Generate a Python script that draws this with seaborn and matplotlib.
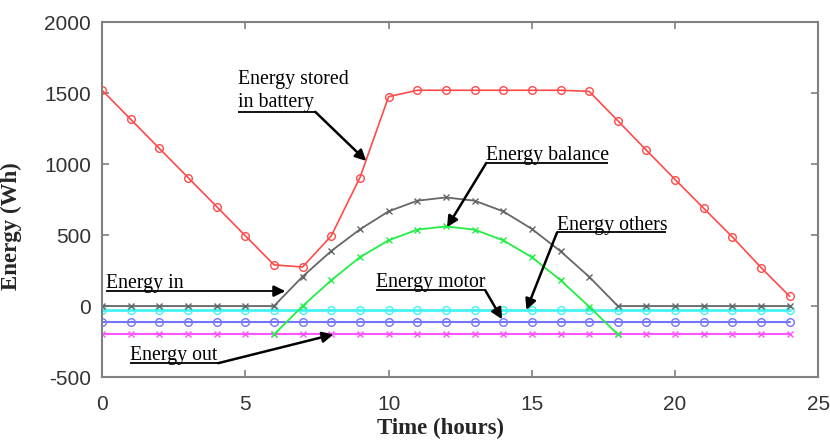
import matplotlib
matplotlib.use("Agg")
import matplotlib.pyplot as plt
import seaborn as sns

# Hourly energy profile (Wh)
hours = list(range(25))
battery = [1520, 1315, 1110, 905, 700, 495, 290, 275, 495, 905, 1475,
           1520, 1520, 1520, 1520, 1520, 1520, 1512, 1305, 1097, 891, 688, 486, 271, 68]
balance = [0, 0, 0, 0, 0, 0, 0, 208, 388, 540, 667, 742, 765, 742, 667,
           543, 386, 206, 0, 0, 0, 0, 0, 0, 0]
energy_in_hours = list(range(6, 19))
energy_in = [-200, 0, 182, 344, 463, 538, 561, 538, 463, 344, 182, -4, -200]
others = [-25] * 25
motor = [-110] * 25
energy_out = [-200] * 25

x_ticks = [0, 5, 10, 15, 20, 25]
y_ticks = [-500, 0, 500, 1000, 1500, 2000]

sns.set_style("ticks")
plt.rcParams["font.family"] = ["Liberation Sans", "DejaVu Sans"]
plt.rcParams["axes.unicode_minus"] = False

fig, ax = plt.subplots(figsize=(8.3, 4.42), dpi=100)
fig.subplots_adjust(left=0.123, right=0.986, top=0.950, bottom=0.147)

series = [
    (hours, others, "#44f2f2", "o", 2.0, 5.5),
    (hours, motor, "#7474ff", "o", 1.5, 5.5),
    (hours, energy_out, "#ff55ff", "x", 1.5, 4.5),
    (hours, battery, "#ff4a4a", "o", 1.2, 5.5),
    (hours, balance, "#666666", "x", 1.3, 4.5),
    (energy_in_hours, energy_in, "#22ee44", "x", 1.3, 4.5),
]
for xs, ys, c, m, lw, ms in series:
    sns.lineplot(x=xs, y=ys, color=c, marker=m, mfc="none", mec=c, mew=1.0,
                 ms=ms, lw=lw, legend=False, ax=ax)

ax.set_xlim(0, 25)
ax.set_ylim(-500, 2000)
ax.set_xticks(x_ticks)
ax.set_yticks(y_ticks)
ax.tick_params(direction="in", length=5, width=1.2, color="#808080",
               labelsize=15, labelcolor="#333333", top=True, right=True)
ax.tick_params(axis="x", pad=13)
ax.tick_params(axis="y", pad=8)
for s in ax.spines.values():
    s.set_color("#808080")
    s.set_linewidth(1.5)

serif = ["Liberation Serif", "DejaVu Serif"]
ax.set_xlabel("Time (hours)", family=serif, fontweight="bold", fontsize=16.5)
ax.set_ylabel("Energy (Wh)", family=serif, fontweight="bold", fontsize=16.5)
ax.xaxis.set_label_coords(0.473, -0.115)
ax.yaxis.set_label_coords(-0.112, 0.425)

# annotations: text lines, underline (x0, x1, y), arrow start, arrow tip
notes = [
    (["Energy stored", "in battery"], [1563, 1399], (4.75, 7.44, 1368), (7.44, 1368), (9.22, 1022)),
    (["Energy balance"], [1029], (13.41, 17.67, 1008), (13.41, 1008), (12.04, 555)),
    (["Energy others"], [538], (15.88, 19.68, 519), (15.88, 519), (14.81, -28)),
    (["Energy motor"], [131], (9.57, 13.37, 112), (13.37, 112), (13.96, -93)),
    (["Energy in"], [124], (0.14, 6.2, 105), (6.2, 105), (6.39, 105)),
    (["Energy out"], [-383], (0.97, 4.06, -402), (4.06, -402), (8.07, -200)),
]
for lines, ys, (ux0, ux1, uy), start, tip in notes:
    for t, y in zip(lines, ys):
        ax.text(ux0, y, t, family=serif, fontsize=14.3, va="baseline", ha="left", color="black")
    ax.plot([ux0, ux1], [uy, uy], color="black", lw=1.3, solid_capstyle="butt")
    ax.annotate("", xy=tip, xytext=start,
                arrowprops=dict(arrowstyle="-|>", color="black", lw=1.8,
                                mutation_scale=16, shrinkA=0, shrinkB=0))

fig.savefig("out.png", dpi=100)
